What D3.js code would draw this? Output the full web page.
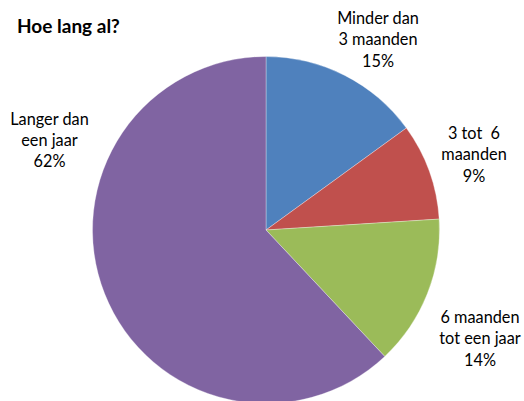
<!DOCTYPE html>
<html>
<head>
<meta charset="utf-8">
<script src="https://cdn.jsdelivr.net/npm/d3@7"></script>
<style>
  html, body { margin: 0; padding: 0; background: #fff; }
  svg { display: block; }
  text { font-family: Lato, "Open Sans", sans-serif; fill: #000; }
</style>
</head>
<body>
<svg id="chart" width="524" height="401"></svg>
<script>
"use strict";

// Data
const categories = ["Minder dan 3 maanden", "3 tot 6 maanden", "6 maanden tot een jaar", "Langer dan een jaar"];
const shares = [15, 9, 14, 62];
const labelLines = [
  ["Minder dan", "3 maanden"],
  ["3 tot  6", "maanden"],
  ["6 maanden", "tot een jaar"],
  ["Langer dan", "een jaar"],
];
const colors = ["#4f81bd", "#c0504d", "#9bbb59", "#8064a2"];

const W = 524, H = 401;
const cx = 266, cy = 230, R = 173.5;
const lineH = 21.3;

// label block centres (x, first baseline), placed like Excel's outside-end labels
const labelPos = [
  [378, 24],
  [474, 139],
  [480, 323],
  [49.5, 124.5],
];

const svg = d3.select("#chart");

svg.append("text")
  .attr("x", 17)
  .attr("y", 33)
  .attr("font-size", 19)
  .attr("font-weight", 700)
  .text("Hoe lang al?");

const pie = d3.pie().sort(null).value((d) => d);
const arc = d3.arc().innerRadius(0).outerRadius(R);

const g = svg.append("g").attr("transform", `translate(${cx},${cy})`);
g.selectAll("path")
  .data(pie(shares))
  .enter()
  .append("path")
  .attr("d", arc)
  .attr("fill", (d, i) => colors[i])
  .attr("stroke", "rgba(255,255,255,0.45)")
  .attr("stroke-width", 0.7);

const fmt = (v) => `${Math.round((v / d3.sum(shares)) * 100)}%`;

const labels = svg.selectAll("text.lbl")
  .data(categories)
  .enter()
  .append("text")
  .attr("class", "lbl")
  .attr("text-anchor", "middle")
  .attr("font-size", 16.3)
  .attr("x", (d, i) => labelPos[i][0])
  .attr("y", (d, i) => labelPos[i][1]);

labels.each(function (d, i) {
  const t = d3.select(this);
  labelLines[i].concat([fmt(shares[i])]).forEach((line, k) => {
    t.append("tspan")
      .attr("x", labelPos[i][0])
      .attr("dy", k === 0 ? 0 : lineH)
      .attr("xml:space", "preserve")
      .text(line);
  });
});
</script>
</body>
</html>
